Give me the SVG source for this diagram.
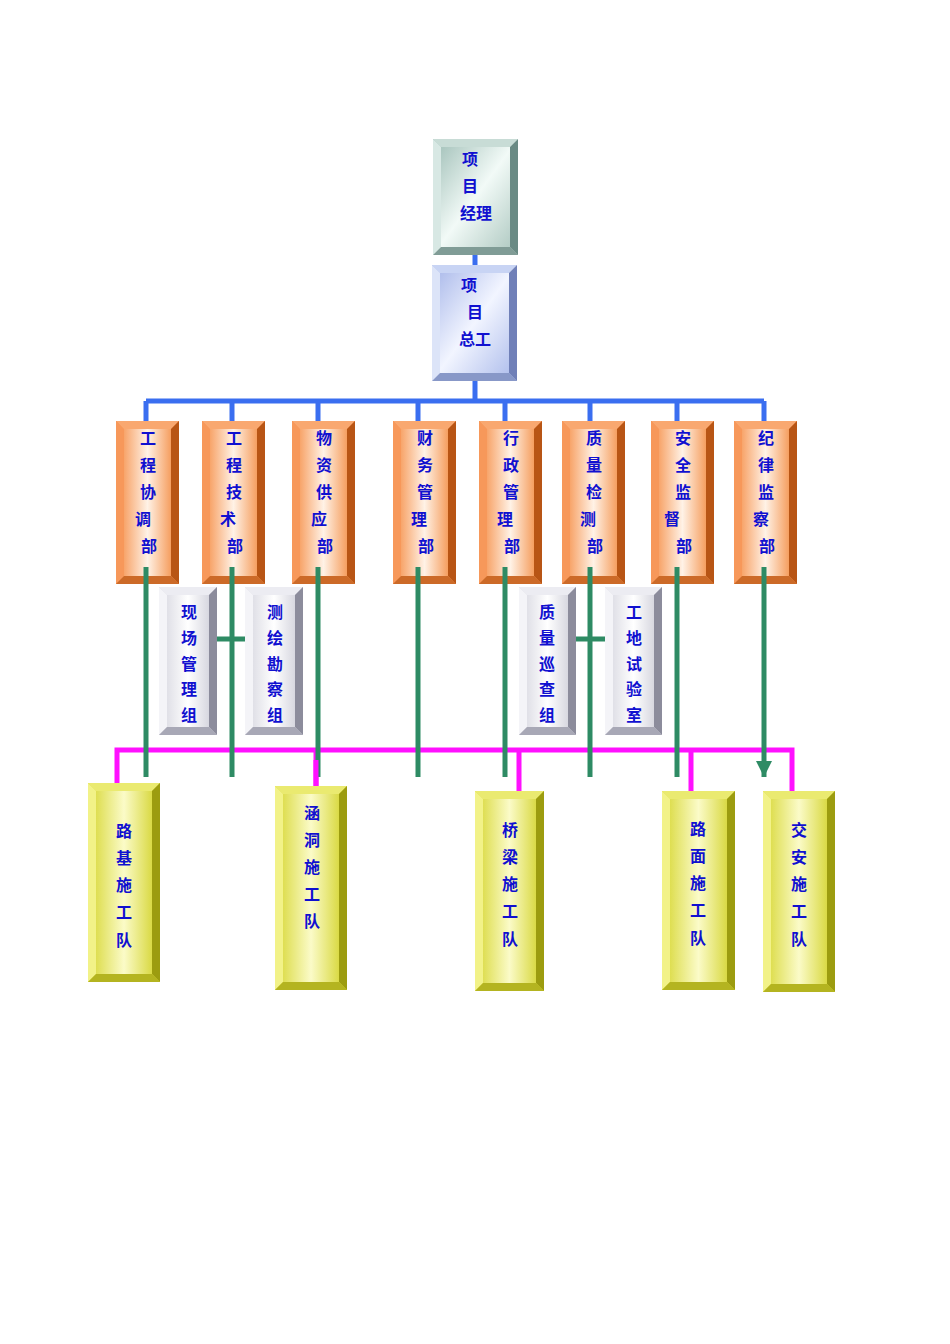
<svg xmlns="http://www.w3.org/2000/svg" width="950" height="1344" viewBox="0 0 950 1344">
<style>
text{font-family:"Noto Sans CJK SC",sans-serif;font-weight:bold;font-size:16px;fill:#1010d0;text-anchor:middle}
.ot{fill:#f9a870}.ol{fill:#f7985a}.or{fill:#b85515}.ob{fill:#cc6a28}
.gt{fill:#ececf2}.gl{fill:#f4f4f8}.gr{fill:#8c8c9c}.gb{fill:#a8a8b6}
.yt{fill:#eaea70}.yl{fill:#f2f288}.yr{fill:#9c9c10}.yb{fill:#b4b420}
.bl{stroke:#3a6ef0;stroke-width:5;fill:none}
.gn{stroke:#2e8b64;stroke-width:5;fill:none}
.mg{stroke:#ff10ff;stroke-width:5;fill:none}
</style>
<defs>
<linearGradient id="fo" x1="0" x2="1"><stop offset="0" stop-color="#f58a40"/><stop offset="0.5" stop-color="#fff2e6"/><stop offset="1" stop-color="#f28232"/></linearGradient>
<linearGradient id="fg" x1="0" x2="1"><stop offset="0" stop-color="#d4d4de"/><stop offset="0.5" stop-color="#ffffff"/><stop offset="1" stop-color="#c8c8d4"/></linearGradient>
<linearGradient id="fy" x1="0" x2="1"><stop offset="0" stop-color="#d6d630"/><stop offset="0.5" stop-color="#fbfbc8"/><stop offset="1" stop-color="#d0d020"/></linearGradient>
<linearGradient id="fp" x1="0" y1="0" x2="1" y2="1"><stop offset="0" stop-color="#9cbcb4"/><stop offset="0.5" stop-color="#f2faf7"/><stop offset="1" stop-color="#a8c4bc"/></linearGradient>
<linearGradient id="fc" x1="0" y1="0" x2="1" y2="1"><stop offset="0" stop-color="#a4b4e8"/><stop offset="0.5" stop-color="#f2f5ff"/><stop offset="1" stop-color="#a8b8ea"/></linearGradient>
<marker id="ah" markerUnits="userSpaceOnUse" markerWidth="18" markerHeight="16" refX="16" refY="8" orient="auto"><path d="M0,0 L16,8 L0,16 Z" fill="#2e8b64"/></marker>
</defs>

<g id="connectors">
<path class="bl" d="M475,255V265M475,381V401M146,401H764M146,401V421M232,401V421M318,401V421M418,401V421M505,401V421M590,401V421M677,401V421M764,401V421"/>
<path class="mg" d="M117,784V750H792V792M316,750V787M519,750V792M691,750V792"/>
</g>

<g id="pm"><rect x="433" y="139" width="85" height="116" fill="url(#fp)"/>
<polygon points="433,139 518,139 510,147 441,147" fill="#c8dcd6"/><polygon points="433,139 441,147 441,247 433,255" fill="#d8e8e4"/><polygon points="518,139 518,255 510,247 510,147" fill="#6a8a84"/><polygon points="433,255 441,247 510,247 518,255" fill="#809c96"/>
<text x="470" y="165">项</text><text x="470" y="192">目</text><text x="476" y="219">经理</text></g>
<g id="ce"><rect x="432" y="265" width="85" height="116" fill="url(#fc)"/>
<polygon points="432,265 517,265 509,273 440,273" fill="#c8d4f4"/><polygon points="432,265 440,273 440,373 432,381" fill="#dce4f8"/><polygon points="517,265 517,381 509,373 509,273" fill="#7080b8"/><polygon points="432,381 440,373 509,373 517,381" fill="#8898c8"/>
<text x="469" y="291">项</text><text x="475" y="318">目</text><text x="475" y="345">总工</text></g>

<g id="d1"><rect x="116" y="421" width="63" height="163" fill="url(#fo)"/><polygon class="ot" points="116,421 179,421 171,429 124,429"/><polygon class="ol" points="116,421 124,429 124,576 116,584"/><polygon class="or" points="179,421 179,584 171,576 171,429"/><polygon class="ob" points="116,584 124,576 171,576 179,584"/>
<text x="148" y="444">工</text><text x="148" y="471">程</text><text x="148" y="498">协</text><text x="143" y="525">调</text><text x="149" y="552">部</text></g>
<g id="d2"><rect x="202" y="421" width="63" height="163" fill="url(#fo)"/><polygon class="ot" points="202,421 265,421 257,429 210,429"/><polygon class="ol" points="202,421 210,429 210,576 202,584"/><polygon class="or" points="265,421 265,584 257,576 257,429"/><polygon class="ob" points="202,584 210,576 257,576 265,584"/>
<text x="234" y="444">工</text><text x="234" y="471">程</text><text x="234" y="498">技</text><text x="228" y="525">术</text><text x="235" y="552">部</text></g>
<g id="d3"><rect x="292" y="421" width="63" height="163" fill="url(#fo)"/><polygon class="ot" points="292,421 355,421 347,429 300,429"/><polygon class="ol" points="292,421 300,429 300,576 292,584"/><polygon class="or" points="355,421 355,584 347,576 347,429"/><polygon class="ob" points="292,584 300,576 347,576 355,584"/>
<text x="324" y="444">物</text><text x="324" y="471">资</text><text x="324" y="498">供</text><text x="319" y="525">应</text><text x="325" y="552">部</text></g>
<g id="d4"><rect x="393" y="421" width="63" height="163" fill="url(#fo)"/><polygon class="ot" points="393,421 456,421 448,429 401,429"/><polygon class="ol" points="393,421 401,429 401,576 393,584"/><polygon class="or" points="456,421 456,584 448,576 448,429"/><polygon class="ob" points="393,584 401,576 448,576 456,584"/>
<text x="425" y="444">财</text><text x="425" y="471">务</text><text x="425" y="498">管</text><text x="419" y="525">理</text><text x="426" y="552">部</text></g>
<g id="d5"><rect x="479" y="421" width="63" height="163" fill="url(#fo)"/><polygon class="ot" points="479,421 542,421 534,429 487,429"/><polygon class="ol" points="479,421 487,429 487,576 479,584"/><polygon class="or" points="542,421 542,584 534,576 534,429"/><polygon class="ob" points="479,584 487,576 534,576 542,584"/>
<text x="511" y="444">行</text><text x="511" y="471">政</text><text x="511" y="498">管</text><text x="505" y="525">理</text><text x="512" y="552">部</text></g>
<g id="d6"><rect x="562" y="421" width="63" height="163" fill="url(#fo)"/><polygon class="ot" points="562,421 625,421 617,429 570,429"/><polygon class="ol" points="562,421 570,429 570,576 562,584"/><polygon class="or" points="625,421 625,584 617,576 617,429"/><polygon class="ob" points="562,584 570,576 617,576 625,584"/>
<text x="594" y="444">质</text><text x="594" y="471">量</text><text x="594" y="498">检</text><text x="588" y="525">测</text><text x="595" y="552">部</text></g>
<g id="d7"><rect x="651" y="421" width="63" height="163" fill="url(#fo)"/><polygon class="ot" points="651,421 714,421 706,429 659,429"/><polygon class="ol" points="651,421 659,429 659,576 651,584"/><polygon class="or" points="714,421 714,584 706,576 706,429"/><polygon class="ob" points="651,584 659,576 706,576 714,584"/>
<text x="683" y="444">安</text><text x="683" y="471">全</text><text x="683" y="498">监</text><text x="672" y="525">督</text><text x="684" y="552">部</text></g>
<g id="d8"><rect x="734" y="421" width="63" height="163" fill="url(#fo)"/><polygon class="ot" points="734,421 797,421 789,429 742,429"/><polygon class="ol" points="734,421 742,429 742,576 734,584"/><polygon class="or" points="797,421 797,584 789,576 789,429"/><polygon class="ob" points="734,584 742,576 789,576 797,584"/>
<text x="766" y="444">纪</text><text x="766" y="471">律</text><text x="766" y="498">监</text><text x="761" y="525">察</text><text x="767" y="552">部</text></g>

<g id="s1"><rect x="159" y="587" width="58" height="148" fill="url(#fg)"/><polygon class="gt" points="159,587 217,587 209,595 167,595"/><polygon class="gl" points="159,587 167,595 167,727 159,735"/><polygon class="gr" points="217,587 217,735 209,727 209,595"/><polygon class="gb" points="159,735 167,727 209,727 217,735"/>
<text x="189" y="618">现</text><text x="189" y="644">场</text><text x="189" y="670">管</text><text x="189" y="695">理</text><text x="189" y="721">组</text></g>
<g id="s2"><rect x="245" y="587" width="58" height="148" fill="url(#fg)"/><polygon class="gt" points="245,587 303,587 295,595 253,595"/><polygon class="gl" points="245,587 253,595 253,727 245,735"/><polygon class="gr" points="303,587 303,735 295,727 295,595"/><polygon class="gb" points="245,735 253,727 295,727 303,735"/>
<text x="275" y="618">测</text><text x="275" y="644">绘</text><text x="275" y="670">勘</text><text x="275" y="695">察</text><text x="275" y="721">组</text></g>
<g id="s3"><rect x="519" y="587" width="57" height="148" fill="url(#fg)"/><polygon class="gt" points="519,587 576,587 568,595 527,595"/><polygon class="gl" points="519,587 527,595 527,727 519,735"/><polygon class="gr" points="576,587 576,735 568,727 568,595"/><polygon class="gb" points="519,735 527,727 568,727 576,735"/>
<text x="547" y="618">质</text><text x="547" y="644">量</text><text x="547" y="670">巡</text><text x="547" y="695">查</text><text x="547" y="721">组</text></g>
<g id="s4"><rect x="605" y="587" width="57" height="148" fill="url(#fg)"/><polygon class="gt" points="605,587 662,587 654,595 613,595"/><polygon class="gl" points="605,587 613,595 613,727 605,735"/><polygon class="gr" points="662,587 662,735 654,727 654,595"/><polygon class="gb" points="605,735 613,727 654,727 662,735"/>
<text x="634" y="618">工</text><text x="634" y="644">地</text><text x="634" y="670">试</text><text x="634" y="695">验</text><text x="634" y="721">室</text></g>

<g id="green-connectors">
<path class="gn" d="M217,639H245M576,639H605"/>
<path class="gn" marker-end="url(#ah)" d="M146,567V777M232,567V777M318,567V777M418,567V777M505,567V777M590,567V777M677,567V777M764,567V777"/>
</g>
<path class="mg" d="M316,760V787"/>

<g id="t1"><rect x="88" y="783" width="72" height="199" fill="url(#fy)"/><polygon class="yt" points="88,783 160,783 152,791 96,791"/><polygon class="yl" points="88,783 96,791 96,974 88,982"/><polygon class="yr" points="160,783 160,982 152,974 152,791"/><polygon class="yb" points="88,982 96,974 152,974 160,982"/>
<text x="124" y="837">路</text><text x="124" y="864">基</text><text x="124" y="891">施</text><text x="124" y="918">工</text><text x="124" y="946">队</text></g>
<g id="t2"><rect x="275" y="786" width="72" height="204" fill="url(#fy)"/><polygon class="yt" points="275,786 347,786 339,794 283,794"/><polygon class="yl" points="275,786 283,794 283,982 275,990"/><polygon class="yr" points="347,786 347,990 339,982 339,794"/><polygon class="yb" points="275,990 283,982 339,982 347,990"/>
<text x="312" y="819">涵</text><text x="312" y="846">洞</text><text x="312" y="873">施</text><text x="312" y="900">工</text><text x="312" y="927">队</text></g>
<g id="t3"><rect x="475" y="791" width="69" height="200" fill="url(#fy)"/><polygon class="yt" points="475,791 544,791 536,799 483,799"/><polygon class="yl" points="475,791 483,799 483,983 475,991"/><polygon class="yr" points="544,791 544,991 536,983 536,799"/><polygon class="yb" points="475,991 483,983 536,983 544,991"/>
<text x="510" y="836">桥</text><text x="510" y="863">梁</text><text x="510" y="890">施</text><text x="510" y="917">工</text><text x="510" y="945">队</text></g>
<g id="t4"><rect x="662" y="791" width="73" height="199" fill="url(#fy)"/><polygon class="yt" points="662,791 735,791 727,799 670,799"/><polygon class="yl" points="662,791 670,799 670,982 662,990"/><polygon class="yr" points="735,791 735,990 727,982 727,799"/><polygon class="yb" points="662,990 670,982 727,982 735,990"/>
<text x="698" y="835">路</text><text x="698" y="862">面</text><text x="698" y="889">施</text><text x="698" y="916">工</text><text x="698" y="944">队</text></g>
<g id="t5"><rect x="763" y="791" width="72" height="201" fill="url(#fy)"/><polygon class="yt" points="763,791 835,791 827,799 771,799"/><polygon class="yl" points="763,791 771,799 771,984 763,992"/><polygon class="yr" points="835,791 835,992 827,984 827,799"/><polygon class="yb" points="763,992 771,984 827,984 835,992"/>
<text x="799" y="836">交</text><text x="799" y="863">安</text><text x="799" y="890">施</text><text x="799" y="917">工</text><text x="799" y="945">队</text></g>
</svg>
